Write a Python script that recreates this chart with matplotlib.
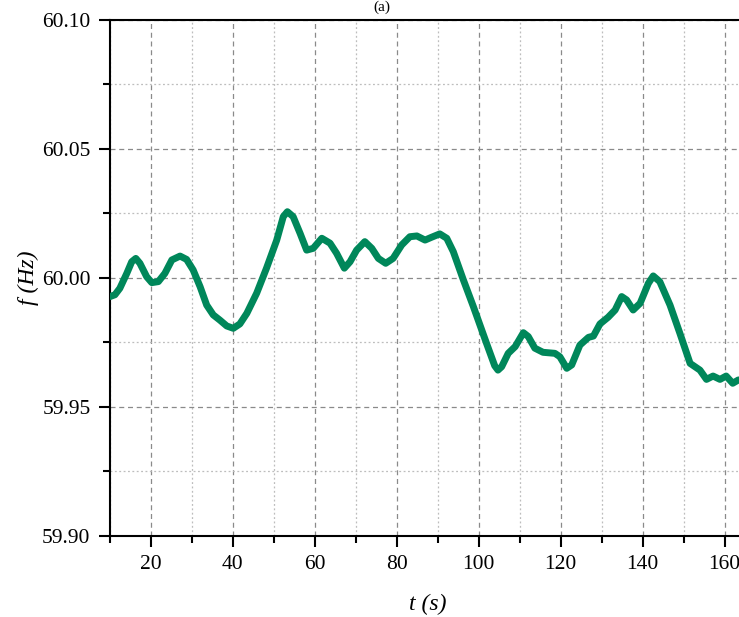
import matplotlib
matplotlib.use("Agg")
import matplotlib.pyplot as plt
from matplotlib.ticker import MultipleLocator, FormatStrFormatter

t_s = [10.0, 11.2, 12.4, 14.1, 15.3, 16.3, 17.3, 18.95, 20.2, 21.8, 23.4, 25.1, 27.1, 28.7,
       30.3, 32.0, 33.6, 35.2, 36.8, 38.5, 40.1, 41.7, 43.4, 45.8, 48.2, 50.7, 52.3, 53.3,
       54.7, 56.4, 58.0, 59.6, 61.7, 63.7, 65.3, 67.2, 68.6, 70.2, 72.2, 73.9, 75.5, 77.3,
       79.1, 81.2, 83.2, 84.9, 86.9, 88.5, 90.5, 92.2, 93.8, 96.2, 98.7, 101.9, 103.9,
       104.7, 105.6, 107.2, 108.9, 110.9, 112.1, 113.7, 115.7, 118.6, 119.8, 121.5, 122.7,
       124.7, 126.8, 128.0, 129.6, 131.6, 133.3, 134.9, 136.1, 137.7, 139.4, 141.4, 142.6,
       144.2, 146.7, 149.1, 151.6, 154.0, 155.6, 157.2, 158.9, 160.4, 162.0, 163.4]
f_hz = [59.9928, 59.9935, 59.9960, 60.0018, 60.0063, 60.0076, 60.0057, 60.0005, 59.9982,
        59.9986, 60.0018, 60.0070, 60.0085, 60.0072, 60.0031, 59.9966, 59.9895, 59.9857,
        59.9837, 59.9814, 59.9805, 59.9822, 59.9863, 59.9941, 60.0038, 60.0147, 60.0238,
        60.0257, 60.0238, 60.0173, 60.0108, 60.0115, 60.0154, 60.0135, 60.0096, 60.0038,
        60.0063, 60.0108, 60.0141, 60.0115, 60.0076, 60.0057, 60.0076, 60.0128, 60.0160,
        60.0163, 60.0147, 60.0158, 60.0171, 60.0154, 60.0102, 59.9995, 59.9889, 59.9747,
        59.9660, 59.9643, 59.9656, 59.9708, 59.9734, 59.9788, 59.9773, 59.9728, 59.9712,
        59.9708, 59.9695, 59.9650, 59.9663, 59.9740, 59.9770, 59.9775, 59.9822, 59.9848,
        59.9876, 59.9928, 59.9915, 59.9876, 59.9902, 59.9979, 60.0008, 59.9986, 59.9895,
        59.9786, 59.9669, 59.9643, 59.9607, 59.9620, 59.9607, 59.9620, 59.9592, 59.9605]

x_major = 20
x_minor = 10
y_major = 0.05
y_minor = 0.025

plt.rcParams['font.family'] = ['Liberation Serif', 'DejaVu Serif']

fig = plt.figure(figsize=(7.39, 6.17), dpi=100)
ax = fig.add_axes([110/739, 81/617, (745-110)/739, (536-20)/617])

ax.plot(t_s, f_hz, color='#00875A', linewidth=5.0, solid_capstyle='round',
        solid_joinstyle='round', zorder=3)

ax.set_xlim(10, 165)
ax.set_ylim(59.90, 60.10)
ax.xaxis.set_major_locator(MultipleLocator(x_major))
ax.xaxis.set_minor_locator(MultipleLocator(x_minor))
ax.yaxis.set_major_locator(MultipleLocator(y_major))
ax.yaxis.set_minor_locator(MultipleLocator(y_minor))
ax.yaxis.set_major_formatter(FormatStrFormatter('%.2f'))

ax.grid(which='major', linestyle=(0, (4, 3)), color='#8a8a8a', linewidth=0.9)
ax.grid(which='minor', linestyle=(0, (1.5, 2)), color='#bdbdbd', linewidth=0.9)
ax.set_axisbelow(True)

for s in ['left', 'bottom', 'top', 'right']:
    ax.spines[s].set_linewidth(1.5)

ax.tick_params(which='major', direction='out', length=8, width=1.5, labelsize=15.5, pad=6)
ax.tick_params(which='minor', direction='out', length=5, width=1.5)
ax.tick_params(axis='x', which='both', top=False)

ax.set_xlabel('t (s)', fontsize=17, style='italic', labelpad=14)
ax.set_ylabel('f (Hz)', fontsize=17, style='italic', labelpad=2)

fig.text(0.517, 0.999, '(a)', fontsize=11, ha='center', va='top')

fig.savefig('out.png', dpi=100)
